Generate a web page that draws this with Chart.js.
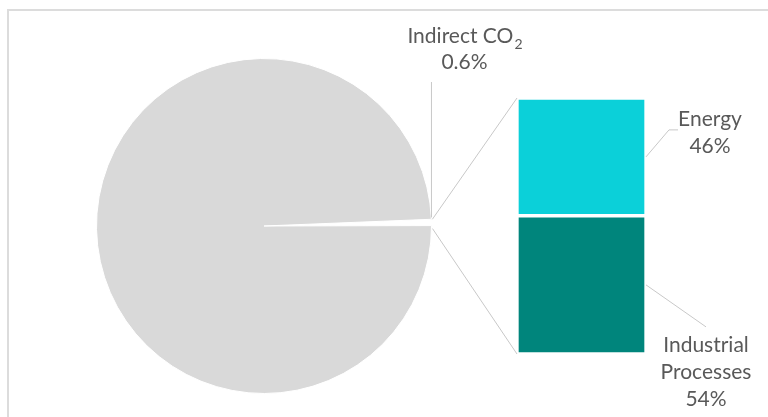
<!DOCTYPE html>
<html>
<head>
<meta charset="utf-8">
<script src="https://cdn.jsdelivr.net/npm/chart.js@4"></script>
<style>
  html, body { margin: 0; padding: 0; background: #fff; }
  #wrap { position: relative; width: 768px; height: 417px; overflow: hidden; }
  #frame { position: absolute; left: 7px; top: 9px; width: 800px; height: 450px;
           border-left: 2px solid #dcdcdc; border-top: 2px solid #dcdcdc; }
  canvas { position: absolute; left: 0; top: 0; }
</style>
</head>
<body>
<div id="wrap">
  <div id="frame"></div>
  <canvas id="pieChart" width="768" height="417"></canvas>
  <canvas id="barChart" width="768" height="417"></canvas>
</div>
<script>
// pie part: tiny slice + the rest (which is split out in the bar)
var pieLabels = ['Indirect CO2', 'Other'];
var pieValues = [0.6, 99.4];
// bar part, bottom to top
var barLabels = ['Industrial Processes', 'Energy'];
var barValues = [54, 46];
var barPctText = ['54%', '46%'];
var piePctText = '0.6%';

var labelFont = '21px Lato, "Open Sans", sans-serif';
var subFont = '14px Lato, "Open Sans", sans-serif';
var labelColor = '#595959';
var lineColor = '#c8c8c8';

var pieChart = new Chart(document.getElementById('pieChart').getContext('2d'), {
    type: 'pie',
    data: {
        labels: pieLabels,
        datasets: [{
            data: pieValues,
            backgroundColor: ['#ffffff', '#d9d9d9'],
            borderColor: '#ffffff',
            borderWidth: 1
        }]
    },
    options: {
        responsive: false,
        animation: false,
        rotation: 87.7,
        layout: { padding: { left: 96, right: 336, top: 58, bottom: 23 } },
        plugins: {
            legend: { display: false },
            tooltip: { enabled: false }
        }
    }
});

// draws the connector lines, leader lines and data labels
var labelsPlugin = {
    id: 'pieOfBarLabels',
    afterDraw: function (chart) {
        var ctx = chart.ctx;
        var arc = pieChart.getDatasetMeta(0).data[0];
        var r = arc.outerRadius;
        var p1 = { x: arc.x + Math.cos(arc.startAngle) * r + 1, y: arc.y + Math.sin(arc.startAngle) * r };
        var p2 = { x: arc.x + Math.cos(arc.endAngle) * r + 1, y: arc.y + Math.sin(arc.endAngle) * r + 3 };
        var midA = (arc.startAngle + arc.endAngle) / 2;
        var rimX = arc.x + Math.cos(midA) * r;
        var rimY = arc.y + Math.sin(midA) * r;

        var ind = chart.getDatasetMeta(0).data[0];
        var en = chart.getDatasetMeta(1).data[0];
        var left = ind.x - ind.width / 2;
        var right = ind.x + ind.width / 2;
        var top = en.y;
        var bottom = ind.base;

        ctx.save();
        ctx.strokeStyle = lineColor;
        ctx.lineWidth = 1;
        ctx.beginPath();
        ctx.moveTo(p1.x, p1.y); ctx.lineTo(left, top);
        ctx.moveTo(p2.x, p2.y); ctx.lineTo(left, bottom);
        // Indirect CO2 leader
        ctx.moveTo(rimX, rimY - 5); ctx.lineTo(rimX, 82);
        // Energy leader
        var enMid = (en.y + en.base) / 2;
        ctx.moveTo(right, enMid); ctx.lineTo(right + 23, enMid - 27); ctx.lineTo(right + 32, enMid - 27);
        // Industrial leader
        var inMid = (ind.y + ind.base) / 2;
        ctx.moveTo(right, inMid); ctx.lineTo(right + 60, inMid + 42);
        ctx.stroke();

        ctx.fillStyle = labelColor;
        ctx.font = labelFont;
        ctx.textAlign = 'center';
        ctx.textBaseline = 'middle';

        // Indirect CO2 with subscript 2
        var cx = rimX + 33;
        var main = 'Indirect CO';
        var w = ctx.measureText(main).width;
        ctx.font = subFont;
        var ws = ctx.measureText('2').width;
        ctx.font = labelFont;
        ctx.textAlign = 'left';
        var x0 = cx - (w + ws) / 2;
        ctx.fillText(main, x0, 36);
        ctx.font = subFont;
        ctx.fillText('2', x0 + w + 1, 44);
        ctx.font = labelFont;
        ctx.textAlign = 'center';
        ctx.fillText(piePctText, cx, 62);

        // Energy
        ctx.fillText('Energy', right + 64, enMid - 38);
        ctx.fillText(barPctText[1], right + 64, enMid - 11);

        // Industrial Processes
        ctx.fillText('Industrial', right + 60, inMid + 60);
        ctx.fillText('Processes', right + 60, inMid + 87);
        ctx.fillText(barPctText[0], right + 60, inMid + 114);
        ctx.restore();
    }
};

var barChart = new Chart(document.getElementById('barChart').getContext('2d'), {
    type: 'bar',
    data: {
        labels: [''],
        datasets: [{
            label: barLabels[0],
            data: [barValues[0]],
            backgroundColor: '#00857c'
        }, {
            label: barLabels[1],
            data: [barValues[1]],
            backgroundColor: '#0bd0d9'
        }]
    },
    options: {
        responsive: false,
        animation: false,
        barPercentage: 1,
        categoryPercentage: 1,
        borderColor: '#ffffff',
        borderWidth: 2,
        borderSkipped: false,
        layout: { padding: { left: 517, right: 122, top: 98, bottom: 63 } },
        scales: {
            x: { stacked: true, display: false },
            y: { stacked: true, display: false, min: 0, max: 100 }
        },
        plugins: {
            legend: { display: false },
            tooltip: { enabled: false }
        }
    },
    plugins: [labelsPlugin]
});
</script>
</body>
</html>
